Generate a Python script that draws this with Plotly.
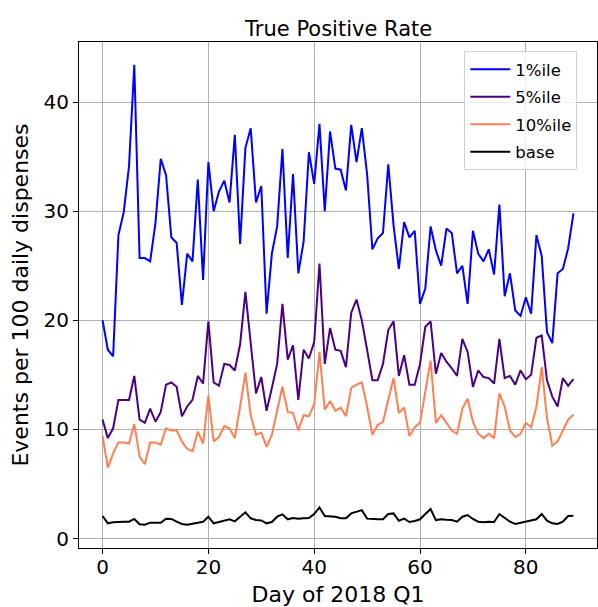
import plotly.graph_objects as go

days = list(range(90))

p1 = [20.0, 17.3, 16.7, 27.8, 29.9, 34.1, 43.4, 25.7, 25.7, 25.4,
      28.9, 34.8, 33.3, 27.6, 27.1, 21.4, 26.1, 25.4, 32.9, 23.7,
      34.5, 30.0, 31.8, 32.8, 30.8, 37.0, 27.0, 35.8, 37.6, 30.8,
      32.3, 20.6, 26.1, 28.6, 35.7, 25.7, 33.4, 24.3, 27.2, 35.4,
      32.5, 38.0, 30.0, 37.3, 33.9, 33.8, 31.9, 37.9, 34.5, 37.6,
      33.4, 26.5, 27.5, 28.0, 34.3, 28.7, 24.7, 29.0, 27.6, 28.2,
      21.5, 22.9, 28.6, 26.4, 25.0, 28.4, 28.0, 24.3, 25.0, 21.5,
      28.2, 26.1, 25.4, 26.5, 24.2, 30.6, 22.2, 24.3, 20.9, 20.4,
      22.1, 20.6, 27.8, 25.9, 18.9, 17.9, 24.3, 24.7, 26.6, 29.8]

p5 = [10.9, 9.2, 10.1, 12.7, 12.7, 12.7, 14.9, 10.9, 10.6, 11.9,
      10.7, 11.6, 14.1, 14.3, 13.9, 11.2, 12.1, 12.7, 14.9, 14.2,
      19.9, 14.3, 14.0, 16.0, 15.9, 15.4, 17.8, 22.6, 17.9, 13.3,
      14.8, 11.7, 13.8, 16.0, 21.5, 16.4, 17.7, 12.7, 17.3, 16.5,
      18.0, 25.2, 16.0, 19.3, 17.3, 17.2, 15.7, 20.7, 21.9, 20.0,
      17.3, 14.5, 14.5, 16.0, 19.1, 19.9, 14.9, 16.8, 14.1, 14.1,
      16.0, 19.4, 19.9, 15.1, 17.0, 16.2, 15.6, 14.9, 18.3, 17.1,
      13.9, 15.4, 14.8, 14.7, 14.2, 18.3, 14.7, 14.9, 14.1, 15.4,
      14.6, 15.0, 18.4, 18.6, 14.5, 13.0, 12.1, 14.7, 14.0, 14.6]

p10 = [9.4, 6.5, 7.8, 8.8, 8.8, 8.7, 10.5, 7.5, 6.8, 8.8,
       8.8, 8.6, 10.1, 9.9, 9.9, 8.9, 8.2, 8.0, 9.8, 8.7,
       13.1, 8.9, 9.3, 10.3, 10.1, 9.2, 12.1, 15.2, 11.3, 9.5,
       9.7, 8.4, 9.5, 11.7, 13.9, 11.6, 11.5, 9.9, 11.3, 11.2,
       12.3, 17.1, 11.8, 12.6, 11.7, 12.0, 11.2, 13.8, 14.1, 14.3,
       12.1, 9.5, 10.4, 10.7, 12.7, 14.7, 11.5, 12.0, 9.4, 10.2,
       10.6, 13.6, 16.3, 10.6, 11.3, 10.6, 9.9, 9.6, 11.9, 12.8,
       10.7, 9.6, 9.2, 9.6, 9.2, 13.3, 12.1, 9.9, 9.3, 9.6,
       10.6, 10.2, 12.1, 15.7, 11.0, 8.5, 8.9, 9.9, 10.9, 11.35]

base = [2.06, 1.39, 1.48, 1.54, 1.54, 1.54, 1.79, 1.30, 1.27, 1.45,
        1.45, 1.45, 1.82, 1.79, 1.54, 1.33, 1.27, 1.36, 1.48, 1.54,
        2.00, 1.39, 1.51, 1.63, 1.76, 1.57, 2.00, 2.40, 1.85, 1.69,
        1.66, 1.39, 1.51, 2.00, 2.21, 1.76, 1.88, 1.82, 1.85, 1.88,
        2.24, 2.85, 2.06, 2.03, 2.00, 1.85, 1.85, 2.30, 2.43, 2.60,
        1.82, 1.76, 1.76, 1.76, 2.24, 2.30, 1.63, 1.82, 1.51, 1.60,
        1.76, 2.24, 2.70, 1.69, 1.76, 1.72, 1.69, 1.54, 2.00, 2.15,
        1.79, 1.54, 1.48, 1.54, 1.51, 2.24, 1.85, 1.54, 1.33, 1.45,
        1.57, 1.63, 1.76, 2.24, 1.63, 1.39, 1.33, 1.54, 2.06, 2.09]

series = [("1%ile", p1, "#0000ff"),
          ("5%ile", p5, "#4b0082"),
          ("10%ile", p10, "#ff7f50"),
          ("base", base, "#000000")]

x_ticks = [0, 20, 40, 60, 80]
y_ticks = [0, 10, 20, 30, 40]

fig = go.Figure()
for name, vals, color in series:
    fig.add_trace(go.Scatter(x=days, y=vals, mode="lines", name=name,
                             legendgroup=name,
                             line=dict(color=color, width=2)))

FONT = "DejaVu Sans"
fig.update_layout(
    width=598, height=607,
    margin=dict(l=79, r=1, t=42, b=59),
    paper_bgcolor="white", plot_bgcolor="white",
    font=dict(family=FONT, color="black", size=20),
    title=dict(text="True Positive Rate", x=0.5663, xanchor="center",
               y=1 - 28.5 / 607, yanchor="middle", yref="container",
               font=dict(size=21, family=FONT, color="black")),
    showlegend=True,
    legend=dict(x=0.962, y=0.982, xanchor="right", yanchor="top",
                bgcolor="rgba(255,255,255,0.8)", bordercolor="#d0d0d0",
                borderwidth=1, font=dict(size=16.5, family=FONT),
                tracegroupgap=3, itemwidth=40),
)
fig.update_xaxes(range=[-4.45, 93.45], tickvals=x_ticks, ticks="outside",
                 ticklen=5, tickcolor="black", showline=True, linecolor="black",
                 linewidth=1, mirror=True, showgrid=True, gridcolor="#b0b0b0",
                 gridwidth=1, zeroline=False, ticklabelstandoff=-4,
                 tickfont=dict(size=20, family=FONT),
                 title=dict(text="Day of 2018 Q1", standoff=10,
                            font=dict(size=22, family=FONT)))
fig.update_yaxes(range=[-0.87, 45.5], tickvals=y_ticks, ticks="outside",
                 ticklen=5, tickcolor="black", showline=True, linecolor="black",
                 linewidth=1, mirror=True, showgrid=True, gridcolor="#b0b0b0",
                 gridwidth=1, zeroline=False,
                 tickfont=dict(size=20, family=FONT),
                 title=dict(text="Events per 100 daily dispenses", standoff=8,
                            font=dict(size=22, family=FONT)))

fig.write_html("out.html")
